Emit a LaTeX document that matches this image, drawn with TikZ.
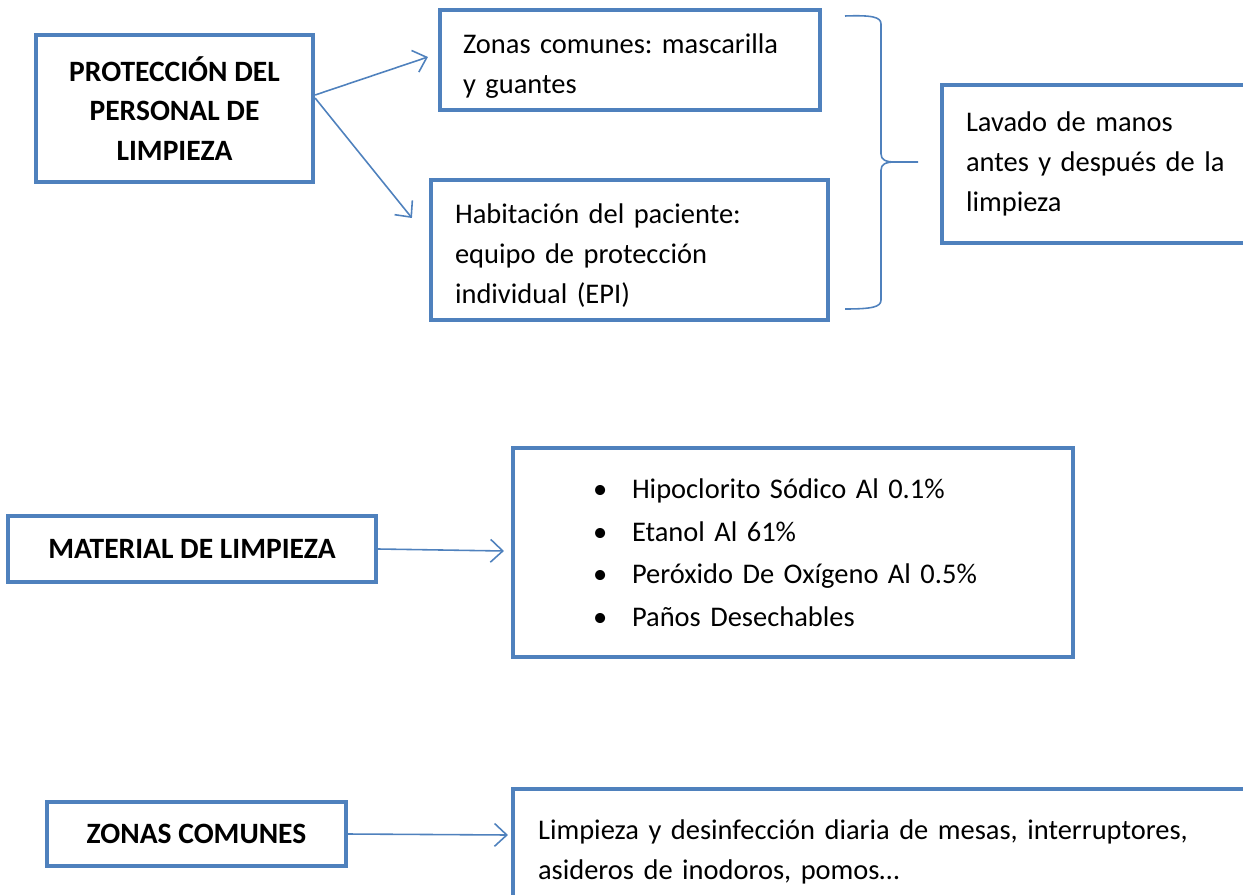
\documentclass[tikz,border=0pt]{standalone}
\usepackage{fontspec}
\setmainfont{Carlito}
\usetikzlibrary{arrows.meta}
\definecolor{azul}{HTML}{4F81BD}
\newcommand{\vineta}[1]{\makebox[0.78cm][l]{\textbullet}#1}
\frenchspacing

\begin{document}
\begin{tikzpicture}[x=0.02cm,y=-0.02cm,
	caja/.style={draw=azul,line width=2.4pt,inner ysep=0pt,align=left,font=\fontsize{16.2}{22.7}\selectfont},
	titulo/.style={draw=azul,line width=2.4pt,inner sep=0pt,align=center,font=\bfseries\fontsize{16.8}{22.7}\selectfont},
	flecha/.style={azul,line width=0.9pt,-{Straight Barb[length=7pt,width=13pt]}}]
	% marco
	\clip (0,0) rectangle (1243,895);
	
	% protección del personal
	\node[titulo,minimum width=5.54cm,minimum height=2.94cm] (prot) at (174.5,108.5) {PROTECCIÓN DEL\\PERSONAL DE\\LIMPIEZA};
	\node[caja,minimum width=7.6cm,minimum height=2cm,inner xsep=0.46cm,text width=6.68cm] (zon) at (630,60) {\rule{0pt}{18pt}Zonas comunes: mascarilla\\y guantes};
	\node[caja,minimum width=7.94cm,minimum height=2.8cm,inner xsep=0.48cm,text width=6.98cm] (hab) at (629.5,250) {\rule{0pt}{18pt}Habitación del paciente:\\equipo de protección\\individual (EPI)};
	\node[caja,minimum width=6.4cm,minimum height=3.16cm,inner xsep=0.48cm,text width=5.44cm] (lav) at (1102,164) {Lavado de manos\\antes y después de la\\limpieza};
	
	% llave
	\draw[azul,line width=0.9pt] (845,16) .. controls (872,15) and (881,17) .. (881,24) -- (881,154)
		.. controls (881,160) and (886,162) .. (895,162) -- (918,162);
	\draw[azul,line width=0.9pt] (895,162) .. controls (886,162) and (881,164) .. (881,170) -- (881,300)
		.. controls (881,307) and (872,309) .. (845,309);
	
	% material
	\node[titulo,minimum width=7.36cm,minimum height=1.32cm] (mat) at (192,549) {MATERIAL DE LIMPIEZA};
	\node[caja,minimum width=11.2cm,minimum height=4.18cm,inner xsep=1.6cm,text width=8cm,font=\fontsize{16.2}{24.2}\selectfont] (lst) at (793,552.5)
		{\vineta{Hipoclorito Sódico Al 0.1\%}\\\vineta{Etanol Al 61\%}\\\vineta{Peróxido De Oxígeno Al 0.5\%}\\\vineta{Paños Desechables}};
	
	% zonas comunes
	\node[titulo,minimum width=5.98cm,minimum height=1.28cm] (zcom) at (196.5,834) {ZONAS COMUNES};
	\node[caja,minimum width=15cm,minimum height=2.52cm,inner xsep=0.5cm,text width=14cm] (dsf) at (888,852)
		{Limpieza y desinfección diaria de mesas, interruptores,\\asideros de inodoros, pomos…\\[0.3cm]};
	
	% flechas
	\draw[flecha] ([shift={(0,-13.5)}]prot.east) -- ([shift={(-10,-3)}]zon.west);
	\draw[flecha] ([shift={(0,-10.5)}]prot.east) -- ([shift={(-17,-32)}]hab.west);
	\draw[flecha] (mat.east) -- ([shift={(-7,-1.5)}]lst.west);
	\draw[flecha] (zcom.east) -- ([shift={(-3,-17)}]dsf.west);
\end{tikzpicture}
\end{document}
